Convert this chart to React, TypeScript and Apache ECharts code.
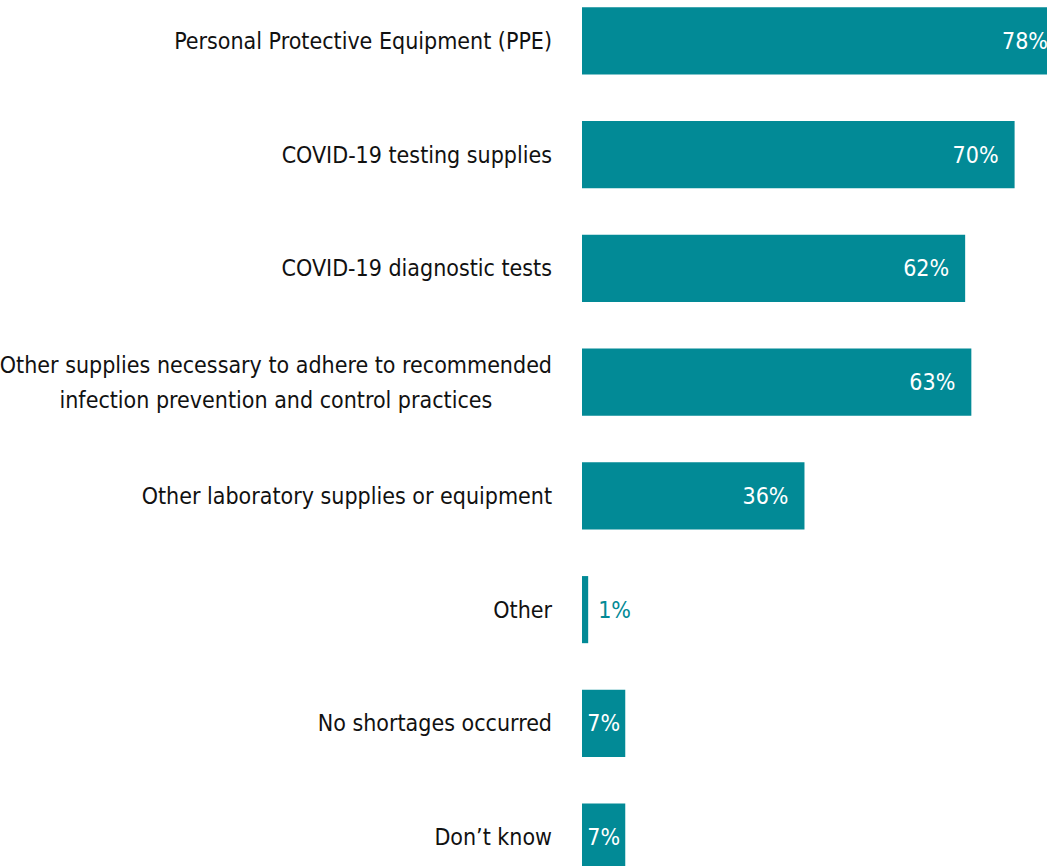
import React, { useEffect, useRef } from "react";
import * as echarts from "echarts";

const categories = [
  "Personal Protective Equipment (PPE)",
  "COVID-19 testing supplies",
  "COVID-19 diagnostic tests",
  "Other supplies necessary to adhere to recommended\ninfection prevention and control practices",
  "Other laboratory supplies or equipment",
  "Other",
  "No shortages occurred",
  "Don\u2019t know",
];
const values = [78, 70, 62, 63, 36, 1, 7, 7];

const TEAL = "#028a96";
const FONT = "'DejaVu Sans Condensed', 'Liberation Sans Narrow', sans-serif";

export default function App() {
  const ref = useRef<HTMLDivElement>(null);
  useEffect(() => {
    if (!ref.current) return;
    const chart = echarts.init(ref.current, undefined, { renderer: "svg" });
    const data = values.map((v) => {
      if (v < 3) {
        return {
          value: v,
          label: { position: "right", distance: 10, color: TEAL },
        };
      }
      if (v < 10) {
        return { value: v, label: { position: "inside", color: "#fff" } };
      }
      return { value: v };
    });
    chart.setOption({
      animation: false,
      grid: {
        left: 582,
        top: 24,
        width: 618,
        height: 910,
        containLabel: false,
        outerBoundsMode: "none",
      },
      xAxis: {
        type: "value",
        min: 0,
        max: 100,
        show: false,
        splitLine: { show: false },
      },
      yAxis: {
        type: "category",
        inverse: true,
        data: categories,
        axisLine: { show: false },
        axisTick: { show: false },
        axisLabel: {
          margin: 30,
          align: "right",
          formatter: (v: string) => `{c|${v}}`,
          rich: {
            c: {
              align: "center",
              fontFamily: FONT,
              fontSize: 23,
              color: "#111",
              lineHeight: 35,
            },
          },
        },
      },
      series: [
        {
          type: "bar",
          data,
          barCategoryGap: "41%",
          itemStyle: { color: TEAL },
          label: {
            show: true,
            position: "insideRight",
            distance: 16,
            formatter: "{c}%",
            color: "#fff",
            fontFamily: FONT,
            fontSize: 23,
          },
        },
      ],
    });
    return () => chart.dispose();
  }, []);
  return (
    <div
      style={{
        position: "absolute",
        left: 0,
        top: 0,
        width: 1047,
        height: 866,
        overflow: "hidden",
        background: "#fff",
      }}
    >
      <div
        ref={ref}
        style={{ position: "absolute", left: 0, top: -40, width: 1210, height: 974 }}
      />
    </div>
  );
}
